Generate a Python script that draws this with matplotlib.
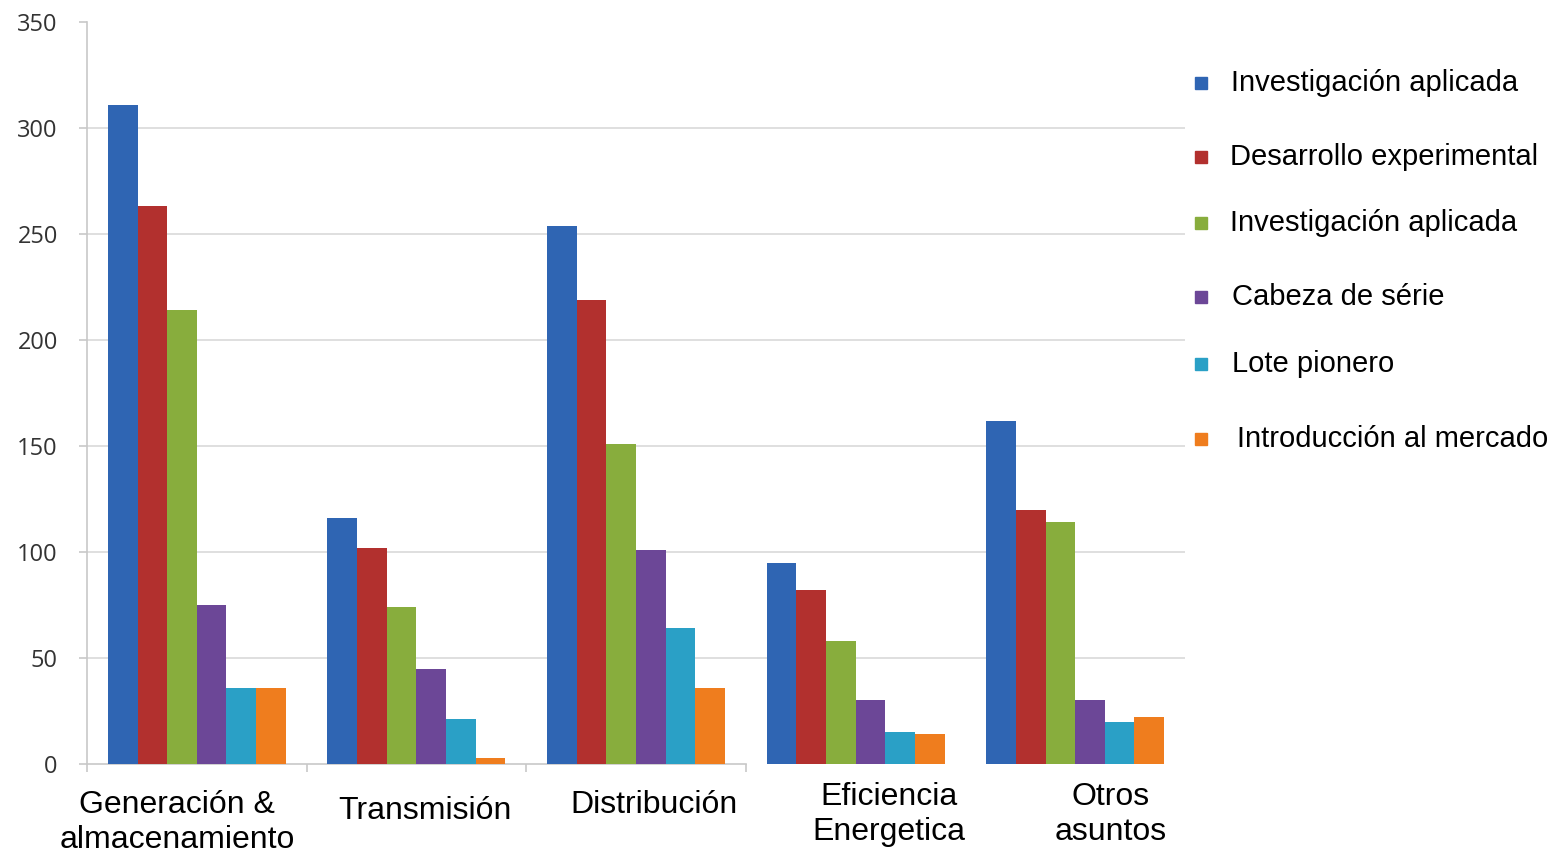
import matplotlib
matplotlib.use("Agg")
import matplotlib.pyplot as plt
import numpy as np

categories = ["Generación &\nalmacenamiento", "Transmisión", "Distribución",
              "Eficiencia\nEnergetica", "Otros\nasuntos"]
series_names = ["Investigación aplicada", "Desarrollo experimental", "Investigación aplicada",
                "Cabeza de série", "Lote pionero", "Introducción al mercado"]
values = [
    [311, 116, 254, 95, 162],   # Investigación aplicada
    [263, 102, 219, 82, 120],   # Desarrollo experimental
    [214, 74, 151, 58, 114],    # Investigación aplicada
    [75, 45, 101, 30, 30],      # Cabeza de série
    [36, 21, 64, 15, 20],       # Lote pionero
    [36, 3, 36, 14, 22],        # Introducción al mercado
]
yticks = [0, 50, 100, 150, 200, 250, 300, 350]

colors = ["#2f65b3", "#b2302e", "#88ad3d", "#6c4797", "#2aa0c6", "#ef7d1e"]
label_dx = [-0.09, 0.04, 0.08, 0.15, 0.16]
label_drop_px = [26, 32, 26, 18, 18]
legend_y = [83, 157, 223, 297, 364, 439]
legend_x = [1231, 1230, 1230, 1232, 1232, 1237]

fig = plt.figure(figsize=(15.55, 8.55), dpi=100)
ax = fig.add_axes([87/1555, 1-764/855, (1185-87)/1555, (764-22)/855])

n = len(series_names)
w = 0.135
x = np.arange(len(categories))
for i in range(n):
    ax.bar(x + (i - (n-1)/2) * w, values[i], width=w, color=colors[i], linewidth=0, zorder=3)

ax.set_xlim(-0.5, 4.5)
ax.set_ylim(0, 350)
ax.set_yticks(yticks)
ax.set_yticklabels([str(t) for t in yticks], fontsize=17, color="#333333", family="Open Sans")
for t in yticks[1:-1]:
    ax.axhline(t, color="#d9d9d9", linewidth=1.2, zorder=1)

for s in ["top", "right"]:
    ax.spines[s].set_visible(False)
ax.spines["left"].set_color("#c8c8c8")
ax.spines["left"].set_linewidth(1.2)
ax.spines["bottom"].set_color("#c8c8c8")
ax.spines["bottom"].set_linewidth(1.2)
ax.spines["bottom"].set_bounds(-0.5, 2.5)
ax.tick_params(axis="y", length=6, width=1.2, color="#c8c8c8", pad=15)
ax.set_xticks([-0.5, 0.5, 1.5, 2.5])
ax.set_xticklabels([])
ax.tick_params(axis="x", length=6, width=1.2, color="#c8c8c8")

for i, c in enumerate(categories):
    ax.annotate(c, xy=(i + label_dx[i], 0), xycoords=("data", "axes fraction"),
                xytext=(0, -label_drop_px[i] * 72 / 100), textcoords="offset points",
                ha="center", va="top", fontsize=23, family="Liberation Sans",
                color="black", linespacing=1.2, annotation_clip=False)

for i in range(n):
    yy = 1 - legend_y[i]/855
    fig.patches.append(plt.Rectangle((1195/1555, yy - 6/855), 12/1555, 12/855,
                                     transform=fig.transFigure, color=colors[i], figure=fig))
    fig.text(legend_x[i]/1555, yy, series_names[i], fontsize=21, family="Liberation Sans",
             va="center", ha="left", color="black")

fig.savefig("out.png", dpi=100)
